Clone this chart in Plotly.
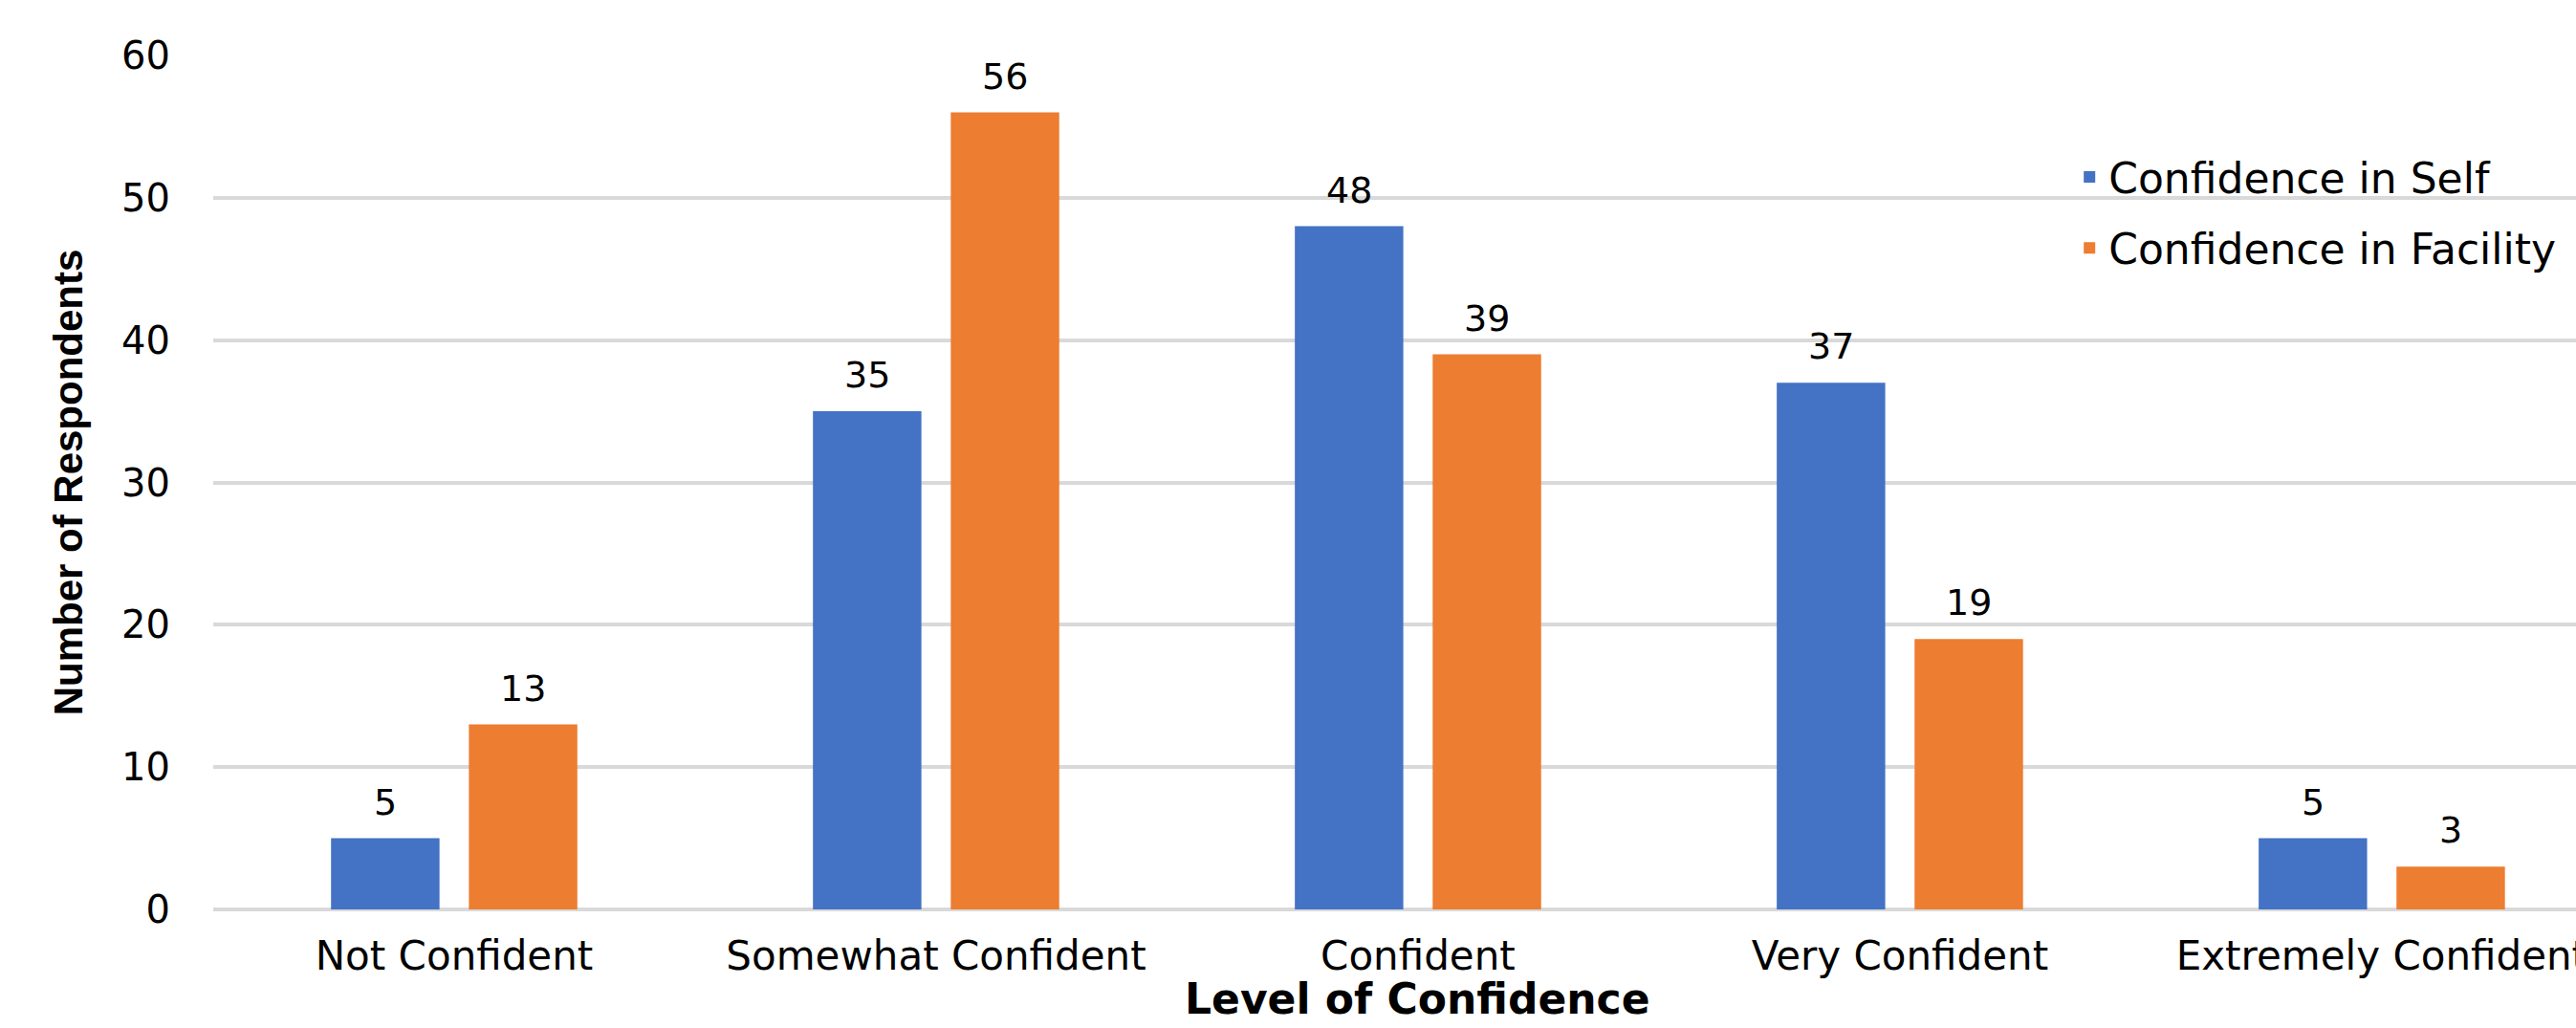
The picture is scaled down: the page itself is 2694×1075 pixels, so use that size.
import plotly.graph_objects as go

# Survey results: confidence levels reported by respondents
categories = ["Not Confident", "Somewhat Confident", "Confident",
              "Very Confident", "Extremely Confident"]
self_confidence = [5, 35, 48, 37, 5]
facility_confidence = [13, 56, 39, 19, 3]
series_names = ["Confidence in Self", "Confidence in Facility"]
y_ticks = [0, 10, 20, 30, 40, 50, 60]
x_title = "Level of Confidence"
y_title = "Number of Respondents"

BLUE = "#4472c4"
ORANGE = "#ed7d31"
GRID = "#d9d9d9"
FONT = "DejaVu Sans"

BARGAP = 0.428
BARGROUPGAP = 0.213

fig = go.Figure()
series = [(series_names[0], self_confidence, BLUE),
          (series_names[1], facility_confidence, ORANGE)]
for idx, (name, values, color) in enumerate(series):
    fig.add_trace(go.Bar(
        x=categories, y=values, name=name,
        marker=dict(color=color, line=dict(width=0)),
        legendgroup=f"g{idx}",
    ))

# value labels above each bar, centred on the bar within its group
slot = (1 - BARGAP) / 2
for idx, (name, values, color) in enumerate(series):
    offset = (idx - 0.5) * slot
    for i, v in enumerate(values):
        fig.add_annotation(
            x=i + offset, y=v, xref="x", yref="y",
            text=str(v), showarrow=False,
            yanchor="bottom", yshift=14,
            font=dict(family=FONT, size=38, color="#000000"),
        )

# x-axis title, centred under the middle category of the full axis
fig.add_annotation(
    x=(len(categories) - 1) / 2, xref="x",
    y=-0.105, yref="paper", yanchor="middle",
    text=f"<b>{x_title}</b>", showarrow=False,
    font=dict(family=FONT, size=44, color="#000000"),
)

fig.update_layout(
    width=2694, height=1075,
    margin=dict(l=223, r=0, t=58, b=124, autoexpand=False),
    paper_bgcolor="white", plot_bgcolor="white",
    barmode="group", bargap=BARGAP, bargroupgap=BARGROUPGAP,
    showlegend=True,
    legend=dict(
        x=0.786, y=0.897, xanchor="left", yanchor="top",
        bgcolor="rgba(0,0,0,0)",
        font=dict(family=FONT, size=44, color="#000000"),
        traceorder="grouped", tracegroupgap=14,
    ),
)

fig.update_xaxes(
    range=[-0.5, 4.403], automargin=False,
    showgrid=False, showline=False, zeroline=False,
    ticks="", ticklabelstandoff=20,
    tickfont=dict(family=FONT, size=42, color="#000000"),
)

fig.update_yaxes(
    range=[0, 60], tickvals=y_ticks, automargin=False,
    showgrid=True, gridcolor=GRID, gridwidth=4,
    zeroline=True, zerolinecolor=GRID, zerolinewidth=4,
    showline=False, ticks="", ticklabelstandoff=44,
    tickfont=dict(family=FONT, size=40, color="#000000"),
    title=dict(text=y_title, standoff=27,
               font=dict(family="Liberation Sans", size=42, color="#000000",
                         weight="bold")),
)

fig.write_html("out.html")
